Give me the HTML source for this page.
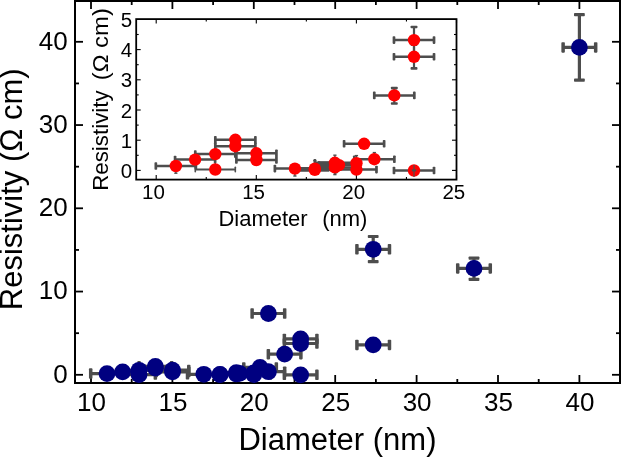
<!DOCTYPE html>
<html><head><meta charset="utf-8"><style>
html,body{margin:0;padding:0;background:#fff;}
svg{display:block;will-change:transform;}
text{font-family:"Liberation Sans",Arial,sans-serif;fill:#000;}
</style></head><body>
<svg width="621" height="457" viewBox="0 0 621 457">
<rect width="621" height="457" fill="#fff"/>
<rect x="75" y="1" width="545" height="382" fill="none" stroke="#000" stroke-width="2"/>
<line x1="91.00" y1="383" x2="91.00" y2="375" stroke="#000" stroke-width="1.8"/>
<line x1="91.00" y1="1" x2="91.00" y2="9" stroke="#000" stroke-width="1.8"/>
<line x1="131.70" y1="383" x2="131.70" y2="379" stroke="#000" stroke-width="1.8"/>
<line x1="131.70" y1="1" x2="131.70" y2="5" stroke="#000" stroke-width="1.8"/>
<line x1="172.40" y1="383" x2="172.40" y2="375" stroke="#000" stroke-width="1.8"/>
<line x1="172.40" y1="1" x2="172.40" y2="9" stroke="#000" stroke-width="1.8"/>
<line x1="213.10" y1="383" x2="213.10" y2="379" stroke="#000" stroke-width="1.8"/>
<line x1="213.10" y1="1" x2="213.10" y2="5" stroke="#000" stroke-width="1.8"/>
<line x1="253.80" y1="383" x2="253.80" y2="375" stroke="#000" stroke-width="1.8"/>
<line x1="253.80" y1="1" x2="253.80" y2="9" stroke="#000" stroke-width="1.8"/>
<line x1="294.50" y1="383" x2="294.50" y2="379" stroke="#000" stroke-width="1.8"/>
<line x1="294.50" y1="1" x2="294.50" y2="5" stroke="#000" stroke-width="1.8"/>
<line x1="335.20" y1="383" x2="335.20" y2="375" stroke="#000" stroke-width="1.8"/>
<line x1="335.20" y1="1" x2="335.20" y2="9" stroke="#000" stroke-width="1.8"/>
<line x1="375.90" y1="383" x2="375.90" y2="379" stroke="#000" stroke-width="1.8"/>
<line x1="375.90" y1="1" x2="375.90" y2="5" stroke="#000" stroke-width="1.8"/>
<line x1="416.60" y1="383" x2="416.60" y2="375" stroke="#000" stroke-width="1.8"/>
<line x1="416.60" y1="1" x2="416.60" y2="9" stroke="#000" stroke-width="1.8"/>
<line x1="457.30" y1="383" x2="457.30" y2="379" stroke="#000" stroke-width="1.8"/>
<line x1="457.30" y1="1" x2="457.30" y2="5" stroke="#000" stroke-width="1.8"/>
<line x1="498.00" y1="383" x2="498.00" y2="375" stroke="#000" stroke-width="1.8"/>
<line x1="498.00" y1="1" x2="498.00" y2="9" stroke="#000" stroke-width="1.8"/>
<line x1="538.70" y1="383" x2="538.70" y2="379" stroke="#000" stroke-width="1.8"/>
<line x1="538.70" y1="1" x2="538.70" y2="5" stroke="#000" stroke-width="1.8"/>
<line x1="579.40" y1="383" x2="579.40" y2="375" stroke="#000" stroke-width="1.8"/>
<line x1="579.40" y1="1" x2="579.40" y2="9" stroke="#000" stroke-width="1.8"/>
<line x1="75" y1="374.80" x2="83" y2="374.80" stroke="#000" stroke-width="1.8"/>
<line x1="620" y1="374.80" x2="612" y2="374.80" stroke="#000" stroke-width="1.8"/>
<line x1="75" y1="333.18" x2="79" y2="333.18" stroke="#000" stroke-width="1.8"/>
<line x1="620" y1="333.18" x2="616" y2="333.18" stroke="#000" stroke-width="1.8"/>
<line x1="75" y1="291.55" x2="83" y2="291.55" stroke="#000" stroke-width="1.8"/>
<line x1="620" y1="291.55" x2="612" y2="291.55" stroke="#000" stroke-width="1.8"/>
<line x1="75" y1="249.93" x2="79" y2="249.93" stroke="#000" stroke-width="1.8"/>
<line x1="620" y1="249.93" x2="616" y2="249.93" stroke="#000" stroke-width="1.8"/>
<line x1="75" y1="208.30" x2="83" y2="208.30" stroke="#000" stroke-width="1.8"/>
<line x1="620" y1="208.30" x2="612" y2="208.30" stroke="#000" stroke-width="1.8"/>
<line x1="75" y1="166.68" x2="79" y2="166.68" stroke="#000" stroke-width="1.8"/>
<line x1="620" y1="166.68" x2="616" y2="166.68" stroke="#000" stroke-width="1.8"/>
<line x1="75" y1="125.05" x2="83" y2="125.05" stroke="#000" stroke-width="1.8"/>
<line x1="620" y1="125.05" x2="612" y2="125.05" stroke="#000" stroke-width="1.8"/>
<line x1="75" y1="83.43" x2="79" y2="83.43" stroke="#000" stroke-width="1.8"/>
<line x1="620" y1="83.43" x2="616" y2="83.43" stroke="#000" stroke-width="1.8"/>
<line x1="75" y1="41.80" x2="83" y2="41.80" stroke="#000" stroke-width="1.8"/>
<line x1="620" y1="41.80" x2="612" y2="41.80" stroke="#000" stroke-width="1.8"/>
<line x1="75" y1="0.18" x2="79" y2="0.18" stroke="#000" stroke-width="1.8"/>
<line x1="620" y1="0.18" x2="616" y2="0.18" stroke="#000" stroke-width="1.8"/>
<text x="91.50" y="411" font-size="26" text-anchor="middle">10</text>
<text x="172.90" y="411" font-size="26" text-anchor="middle">15</text>
<text x="254.30" y="411" font-size="26" text-anchor="middle">20</text>
<text x="335.70" y="411" font-size="26" text-anchor="middle">25</text>
<text x="417.10" y="411" font-size="26" text-anchor="middle">30</text>
<text x="498.50" y="411" font-size="26" text-anchor="middle">35</text>
<text x="579.90" y="411" font-size="26" text-anchor="middle">40</text>
<text x="67.6" y="382.60" font-size="26" text-anchor="end">0</text>
<text x="67.6" y="299.35" font-size="26" text-anchor="end">10</text>
<text x="67.6" y="216.10" font-size="26" text-anchor="end">20</text>
<text x="67.6" y="132.85" font-size="26" text-anchor="end">30</text>
<text x="67.6" y="49.60" font-size="26" text-anchor="end">40</text>
<text x="238.4" y="450.3" font-size="31">Diameter (nm)</text>
<text transform="translate(21.9,310.2) rotate(-90)" font-size="31">Resistivity (&#937; cm)</text>
<line x1="90.70" y1="373.59" x2="123.26" y2="373.59" stroke="#4d4d4d" stroke-width="3.2"/><rect x="88.95" y="368.34" width="3.5" height="10.5" rx="0.8" fill="#4d4d4d"/><rect x="121.51" y="368.34" width="3.5" height="10.5" rx="0.8" fill="#4d4d4d"/>
<line x1="106.35" y1="371.82" x2="138.91" y2="371.82" stroke="#4d4d4d" stroke-width="3.2"/><rect x="104.60" y="366.57" width="3.5" height="10.5" rx="0.8" fill="#4d4d4d"/><rect x="137.16" y="366.57" width="3.5" height="10.5" rx="0.8" fill="#4d4d4d"/>
<line x1="122.78" y1="370.31" x2="155.34" y2="370.31" stroke="#4d4d4d" stroke-width="3.2"/><rect x="121.03" y="365.06" width="3.5" height="10.5" rx="0.8" fill="#4d4d4d"/><rect x="153.59" y="365.06" width="3.5" height="10.5" rx="0.8" fill="#4d4d4d"/>
<line x1="122.78" y1="374.55" x2="155.34" y2="374.55" stroke="#4d4d4d" stroke-width="3.2"/><rect x="121.03" y="369.30" width="3.5" height="10.5" rx="0.8" fill="#4d4d4d"/><rect x="153.59" y="369.30" width="3.5" height="10.5" rx="0.8" fill="#4d4d4d"/>
<line x1="139.08" y1="366.36" x2="171.64" y2="366.36" stroke="#4d4d4d" stroke-width="3.2"/><rect x="137.33" y="361.11" width="3.5" height="10.5" rx="0.8" fill="#4d4d4d"/><rect x="169.89" y="361.11" width="3.5" height="10.5" rx="0.8" fill="#4d4d4d"/>
<line x1="139.08" y1="368.13" x2="171.64" y2="368.13" stroke="#4d4d4d" stroke-width="3.2"/><rect x="137.33" y="362.88" width="3.5" height="10.5" rx="0.8" fill="#4d4d4d"/><rect x="169.89" y="362.88" width="3.5" height="10.5" rx="0.8" fill="#4d4d4d"/>
<line x1="156.20" y1="370.09" x2="188.76" y2="370.09" stroke="#4d4d4d" stroke-width="3.2"/><rect x="154.45" y="364.84" width="3.5" height="10.5" rx="0.8" fill="#4d4d4d"/><rect x="187.01" y="364.84" width="3.5" height="10.5" rx="0.8" fill="#4d4d4d"/>
<line x1="156.20" y1="371.93" x2="188.76" y2="371.93" stroke="#4d4d4d" stroke-width="3.2"/><rect x="154.45" y="366.68" width="3.5" height="10.5" rx="0.8" fill="#4d4d4d"/><rect x="187.01" y="366.68" width="3.5" height="10.5" rx="0.8" fill="#4d4d4d"/>
<line x1="187.51" y1="374.30" x2="220.07" y2="374.30" stroke="#4d4d4d" stroke-width="3.2"/><rect x="185.76" y="369.05" width="3.5" height="10.5" rx="0.8" fill="#4d4d4d"/><rect x="218.32" y="369.05" width="3.5" height="10.5" rx="0.8" fill="#4d4d4d"/>
<line x1="203.73" y1="374.33" x2="236.29" y2="374.33" stroke="#4d4d4d" stroke-width="3.2"/><rect x="201.98" y="369.08" width="3.5" height="10.5" rx="0.8" fill="#4d4d4d"/><rect x="234.54" y="369.08" width="3.5" height="10.5" rx="0.8" fill="#4d4d4d"/>
<line x1="203.73" y1="374.66" x2="236.29" y2="374.66" stroke="#4d4d4d" stroke-width="3.2"/><rect x="201.98" y="369.41" width="3.5" height="10.5" rx="0.8" fill="#4d4d4d"/><rect x="234.54" y="369.41" width="3.5" height="10.5" rx="0.8" fill="#4d4d4d"/>
<line x1="220.04" y1="372.70" x2="252.60" y2="372.70" stroke="#4d4d4d" stroke-width="3.2"/><rect x="218.29" y="367.45" width="3.5" height="10.5" rx="0.8" fill="#4d4d4d"/><rect x="250.85" y="367.45" width="3.5" height="10.5" rx="0.8" fill="#4d4d4d"/>
<line x1="220.04" y1="373.97" x2="252.60" y2="373.97" stroke="#4d4d4d" stroke-width="3.2"/><rect x="218.29" y="368.72" width="3.5" height="10.5" rx="0.8" fill="#4d4d4d"/><rect x="250.85" y="368.72" width="3.5" height="10.5" rx="0.8" fill="#4d4d4d"/>
<line x1="223.37" y1="373.34" x2="255.93" y2="373.34" stroke="#4d4d4d" stroke-width="3.2"/><rect x="221.62" y="368.09" width="3.5" height="10.5" rx="0.8" fill="#4d4d4d"/><rect x="254.18" y="368.09" width="3.5" height="10.5" rx="0.8" fill="#4d4d4d"/>
<line x1="237.56" y1="374.58" x2="270.12" y2="374.58" stroke="#4d4d4d" stroke-width="3.2"/><rect x="235.81" y="369.33" width="3.5" height="10.5" rx="0.8" fill="#4d4d4d"/><rect x="268.37" y="369.33" width="3.5" height="10.5" rx="0.8" fill="#4d4d4d"/>
<line x1="243.78" y1="367.47" x2="276.34" y2="367.47" stroke="#4d4d4d" stroke-width="3.2"/><rect x="242.03" y="362.22" width="3.5" height="10.5" rx="0.8" fill="#4d4d4d"/><rect x="274.59" y="362.22" width="3.5" height="10.5" rx="0.8" fill="#4d4d4d"/>
<line x1="252.12" y1="371.71" x2="284.68" y2="371.71" stroke="#4d4d4d" stroke-width="3.2"/><rect x="250.37" y="366.46" width="3.5" height="10.5" rx="0.8" fill="#4d4d4d"/><rect x="282.93" y="366.46" width="3.5" height="10.5" rx="0.8" fill="#4d4d4d"/>
<line x1="268.34" y1="354.13" x2="300.90" y2="354.13" stroke="#4d4d4d" stroke-width="3.2"/><rect x="266.59" y="348.88" width="3.5" height="10.5" rx="0.8" fill="#4d4d4d"/><rect x="299.15" y="348.88" width="3.5" height="10.5" rx="0.8" fill="#4d4d4d"/>
<line x1="284.36" y1="338.88" x2="316.92" y2="338.88" stroke="#4d4d4d" stroke-width="3.2"/><rect x="282.61" y="333.63" width="3.5" height="10.5" rx="0.8" fill="#4d4d4d"/><rect x="315.17" y="333.63" width="3.5" height="10.5" rx="0.8" fill="#4d4d4d"/>
<line x1="284.36" y1="343.48" x2="316.92" y2="343.48" stroke="#4d4d4d" stroke-width="3.2"/><rect x="282.61" y="338.23" width="3.5" height="10.5" rx="0.8" fill="#4d4d4d"/><rect x="315.17" y="338.23" width="3.5" height="10.5" rx="0.8" fill="#4d4d4d"/>
<line x1="284.36" y1="374.83" x2="316.92" y2="374.83" stroke="#4d4d4d" stroke-width="3.2"/><rect x="282.61" y="369.58" width="3.5" height="10.5" rx="0.8" fill="#4d4d4d"/><rect x="315.17" y="369.58" width="3.5" height="10.5" rx="0.8" fill="#4d4d4d"/>
<line x1="252.12" y1="313.50" x2="284.68" y2="313.50" stroke="#4d4d4d" stroke-width="3.2"/><rect x="250.37" y="308.25" width="3.5" height="10.5" rx="0.8" fill="#4d4d4d"/><rect x="282.93" y="308.25" width="3.5" height="10.5" rx="0.8" fill="#4d4d4d"/>
<line x1="356.92" y1="249.30" x2="389.48" y2="249.30" stroke="#4d4d4d" stroke-width="3.2"/><rect x="355.17" y="244.05" width="3.5" height="10.5" rx="0.8" fill="#4d4d4d"/><rect x="387.73" y="244.05" width="3.5" height="10.5" rx="0.8" fill="#4d4d4d"/>
<line x1="356.92" y1="344.90" x2="389.48" y2="344.90" stroke="#4d4d4d" stroke-width="3.2"/><rect x="355.17" y="339.65" width="3.5" height="10.5" rx="0.8" fill="#4d4d4d"/><rect x="387.73" y="339.65" width="3.5" height="10.5" rx="0.8" fill="#4d4d4d"/>
<line x1="457.72" y1="268.40" x2="490.28" y2="268.40" stroke="#4d4d4d" stroke-width="3.2"/><rect x="455.97" y="263.15" width="3.5" height="10.5" rx="0.8" fill="#4d4d4d"/><rect x="488.53" y="263.15" width="3.5" height="10.5" rx="0.8" fill="#4d4d4d"/>
<line x1="563.12" y1="47.40" x2="595.68" y2="47.40" stroke="#4d4d4d" stroke-width="3.2"/><rect x="561.37" y="42.15" width="3.5" height="10.5" rx="0.8" fill="#4d4d4d"/><rect x="593.93" y="42.15" width="3.5" height="10.5" rx="0.8" fill="#4d4d4d"/>
<line x1="373.20" y1="236.50" x2="373.20" y2="261.60" stroke="#4d4d4d" stroke-width="3.2"/><rect x="367.80" y="234.90" width="10.8" height="3.2" rx="0.8" fill="#4d4d4d"/><rect x="367.80" y="260.00" width="10.8" height="3.2" rx="0.8" fill="#4d4d4d"/>
<line x1="474.00" y1="258.10" x2="474.00" y2="279.40" stroke="#4d4d4d" stroke-width="3.2"/><rect x="468.60" y="256.50" width="10.8" height="3.2" rx="0.8" fill="#4d4d4d"/><rect x="468.60" y="277.80" width="10.8" height="3.2" rx="0.8" fill="#4d4d4d"/>
<line x1="579.40" y1="14.70" x2="579.40" y2="80.20" stroke="#4d4d4d" stroke-width="3.2"/><rect x="574.00" y="13.10" width="10.8" height="3.2" rx="0.8" fill="#4d4d4d"/><rect x="574.00" y="78.60" width="10.8" height="3.2" rx="0.8" fill="#4d4d4d"/>
<circle cx="106.98" cy="373.59" r="8.4" fill="#000080"/>
<circle cx="122.63" cy="371.82" r="8.4" fill="#000080"/>
<circle cx="139.06" cy="370.31" r="8.4" fill="#000080"/>
<circle cx="139.06" cy="374.55" r="8.4" fill="#000080"/>
<circle cx="155.36" cy="366.36" r="8.4" fill="#000080"/>
<circle cx="155.36" cy="368.13" r="8.4" fill="#000080"/>
<circle cx="172.48" cy="370.09" r="8.4" fill="#000080"/>
<circle cx="172.48" cy="371.93" r="8.4" fill="#000080"/>
<circle cx="203.79" cy="374.3" r="8.4" fill="#000080"/>
<circle cx="220.01" cy="374.33" r="8.4" fill="#000080"/>
<circle cx="220.01" cy="374.66" r="8.4" fill="#000080"/>
<circle cx="236.32" cy="372.7" r="8.4" fill="#000080"/>
<circle cx="236.32" cy="373.97" r="8.4" fill="#000080"/>
<circle cx="239.65" cy="373.34" r="8.4" fill="#000080"/>
<circle cx="253.84" cy="372.82" r="8.4" fill="#000080"/>
<circle cx="253.84" cy="374.58" r="8.4" fill="#000080"/>
<circle cx="260.06" cy="367.47" r="8.4" fill="#000080"/>
<circle cx="268.4" cy="371.71" r="8.4" fill="#000080"/>
<circle cx="284.62" cy="354.13" r="8.4" fill="#000080"/>
<circle cx="300.64" cy="338.88" r="8.4" fill="#000080"/>
<circle cx="300.64" cy="343.48" r="8.4" fill="#000080"/>
<circle cx="300.64" cy="374.83" r="8.4" fill="#000080"/>
<circle cx="268.4" cy="313.5" r="8.4" fill="#000080"/>
<circle cx="373.2" cy="249.3" r="8.4" fill="#000080"/>
<circle cx="373.2" cy="344.9" r="8.4" fill="#000080"/>
<circle cx="474.0" cy="268.4" r="8.4" fill="#000080"/>
<circle cx="579.4" cy="47.4" r="8.4" fill="#000080"/>
<rect x="136.2" y="19.1" width="320.3" height="160.5" fill="#fff" stroke="#000" stroke-width="1.8"/>
<line x1="156.20" y1="179.6" x2="156.20" y2="175.1" stroke="#000" stroke-width="1.1"/>
<line x1="156.20" y1="19.1" x2="156.20" y2="23.6" stroke="#000" stroke-width="1.1"/>
<line x1="206.25" y1="179.6" x2="206.25" y2="177.1" stroke="#000" stroke-width="1.1"/>
<line x1="206.25" y1="19.1" x2="206.25" y2="21.6" stroke="#000" stroke-width="1.1"/>
<line x1="256.30" y1="179.6" x2="256.30" y2="175.1" stroke="#000" stroke-width="1.1"/>
<line x1="256.30" y1="19.1" x2="256.30" y2="23.6" stroke="#000" stroke-width="1.1"/>
<line x1="306.35" y1="179.6" x2="306.35" y2="177.1" stroke="#000" stroke-width="1.1"/>
<line x1="306.35" y1="19.1" x2="306.35" y2="21.6" stroke="#000" stroke-width="1.1"/>
<line x1="356.40" y1="179.6" x2="356.40" y2="175.1" stroke="#000" stroke-width="1.1"/>
<line x1="356.40" y1="19.1" x2="356.40" y2="23.6" stroke="#000" stroke-width="1.1"/>
<line x1="406.45" y1="179.6" x2="406.45" y2="177.1" stroke="#000" stroke-width="1.1"/>
<line x1="406.45" y1="19.1" x2="406.45" y2="21.6" stroke="#000" stroke-width="1.1"/>
<line x1="456.50" y1="179.6" x2="456.50" y2="175.1" stroke="#000" stroke-width="1.1"/>
<line x1="456.50" y1="19.1" x2="456.50" y2="23.6" stroke="#000" stroke-width="1.1"/>
<line x1="136.2" y1="170.40" x2="140.7" y2="170.40" stroke="#000" stroke-width="1.1"/>
<line x1="456.5" y1="170.40" x2="452.0" y2="170.40" stroke="#000" stroke-width="1.1"/>
<line x1="136.2" y1="155.30" x2="138.7" y2="155.30" stroke="#000" stroke-width="1.1"/>
<line x1="456.5" y1="155.30" x2="454.0" y2="155.30" stroke="#000" stroke-width="1.1"/>
<line x1="136.2" y1="140.20" x2="140.7" y2="140.20" stroke="#000" stroke-width="1.1"/>
<line x1="456.5" y1="140.20" x2="452.0" y2="140.20" stroke="#000" stroke-width="1.1"/>
<line x1="136.2" y1="125.10" x2="138.7" y2="125.10" stroke="#000" stroke-width="1.1"/>
<line x1="456.5" y1="125.10" x2="454.0" y2="125.10" stroke="#000" stroke-width="1.1"/>
<line x1="136.2" y1="110.00" x2="140.7" y2="110.00" stroke="#000" stroke-width="1.1"/>
<line x1="456.5" y1="110.00" x2="452.0" y2="110.00" stroke="#000" stroke-width="1.1"/>
<line x1="136.2" y1="94.90" x2="138.7" y2="94.90" stroke="#000" stroke-width="1.1"/>
<line x1="456.5" y1="94.90" x2="454.0" y2="94.90" stroke="#000" stroke-width="1.1"/>
<line x1="136.2" y1="79.80" x2="140.7" y2="79.80" stroke="#000" stroke-width="1.1"/>
<line x1="456.5" y1="79.80" x2="452.0" y2="79.80" stroke="#000" stroke-width="1.1"/>
<line x1="136.2" y1="64.70" x2="138.7" y2="64.70" stroke="#000" stroke-width="1.1"/>
<line x1="456.5" y1="64.70" x2="454.0" y2="64.70" stroke="#000" stroke-width="1.1"/>
<line x1="136.2" y1="49.60" x2="140.7" y2="49.60" stroke="#000" stroke-width="1.1"/>
<line x1="456.5" y1="49.60" x2="452.0" y2="49.60" stroke="#000" stroke-width="1.1"/>
<line x1="136.2" y1="34.50" x2="138.7" y2="34.50" stroke="#000" stroke-width="1.1"/>
<line x1="456.5" y1="34.50" x2="454.0" y2="34.50" stroke="#000" stroke-width="1.1"/>
<text x="153.50" y="199.3" font-size="20.5" text-anchor="middle">10</text>
<text x="253.60" y="199.3" font-size="20.5" text-anchor="middle">15</text>
<text x="353.70" y="199.3" font-size="20.5" text-anchor="middle">20</text>
<text x="453.80" y="199.3" font-size="20.5" text-anchor="middle">25</text>
<text x="132.2" y="178.00" font-size="20.5" text-anchor="end">0</text>
<text x="132.2" y="147.80" font-size="20.5" text-anchor="end">1</text>
<text x="132.2" y="117.60" font-size="20.5" text-anchor="end">2</text>
<text x="132.2" y="87.40" font-size="20.5" text-anchor="end">3</text>
<text x="132.2" y="57.20" font-size="20.5" text-anchor="end">4</text>
<text x="132.2" y="27.00" font-size="20.5" text-anchor="end">5</text>
<text x="218.4" y="226.4" font-size="22">Diameter</text><text x="322.2" y="226.4" font-size="22">(nm)</text>
<text transform="translate(108.2,190.8) rotate(-90)" font-size="22" textLength="100.4" lengthAdjust="spacingAndGlyphs">Resistivity</text>
<text transform="translate(108.2,80.3) rotate(-90)" font-size="22" textLength="72.2" lengthAdjust="spacingAndGlyphs">(&#937; cm)</text>
<line x1="155.83" y1="166.00" x2="195.87" y2="166.00" stroke="#4d4d4d" stroke-width="2.5"/><rect x="154.48" y="162.20" width="2.7" height="7.6" rx="0.8" fill="#4d4d4d"/><rect x="194.52" y="162.20" width="2.7" height="7.6" rx="0.8" fill="#4d4d4d"/>
<line x1="175.08" y1="159.60" x2="215.12" y2="159.60" stroke="#4d4d4d" stroke-width="2.5"/><rect x="173.73" y="155.80" width="2.7" height="7.6" rx="0.8" fill="#4d4d4d"/><rect x="213.77" y="155.80" width="2.7" height="7.6" rx="0.8" fill="#4d4d4d"/>
<line x1="195.28" y1="154.10" x2="235.32" y2="154.10" stroke="#4d4d4d" stroke-width="2.5"/><rect x="193.93" y="150.30" width="2.7" height="7.6" rx="0.8" fill="#4d4d4d"/><rect x="233.97" y="150.30" width="2.7" height="7.6" rx="0.8" fill="#4d4d4d"/>
<line x1="195.28" y1="169.50" x2="235.32" y2="169.50" stroke="#4d4d4d" stroke-width="2.0"/><rect x="194.48" y="166.50" width="1.6" height="6.0" rx="0.8" fill="#4d4d4d"/><rect x="234.52" y="166.50" width="1.6" height="6.0" rx="0.8" fill="#4d4d4d"/>
<line x1="215.33" y1="139.80" x2="255.37" y2="139.80" stroke="#4d4d4d" stroke-width="2.5"/><rect x="213.98" y="136.00" width="2.7" height="7.6" rx="0.8" fill="#4d4d4d"/><rect x="254.02" y="136.00" width="2.7" height="7.6" rx="0.8" fill="#4d4d4d"/>
<line x1="215.33" y1="146.20" x2="255.37" y2="146.20" stroke="#4d4d4d" stroke-width="2.5"/><rect x="213.98" y="142.40" width="2.7" height="7.6" rx="0.8" fill="#4d4d4d"/><rect x="254.02" y="142.40" width="2.7" height="7.6" rx="0.8" fill="#4d4d4d"/>
<line x1="236.38" y1="153.30" x2="276.42" y2="153.30" stroke="#4d4d4d" stroke-width="2.5"/><rect x="235.03" y="149.50" width="2.7" height="7.6" rx="0.8" fill="#4d4d4d"/><rect x="275.07" y="149.50" width="2.7" height="7.6" rx="0.8" fill="#4d4d4d"/>
<line x1="236.38" y1="160.00" x2="276.42" y2="160.00" stroke="#4d4d4d" stroke-width="2.5"/><rect x="235.03" y="156.20" width="2.7" height="7.6" rx="0.8" fill="#4d4d4d"/><rect x="275.07" y="156.20" width="2.7" height="7.6" rx="0.8" fill="#4d4d4d"/>
<line x1="274.88" y1="168.60" x2="314.92" y2="168.60" stroke="#4d4d4d" stroke-width="2.5"/><rect x="273.53" y="164.80" width="2.7" height="7.6" rx="0.8" fill="#4d4d4d"/><rect x="313.57" y="164.80" width="2.7" height="7.6" rx="0.8" fill="#4d4d4d"/>
<line x1="294.83" y1="168.70" x2="334.87" y2="168.70" stroke="#4d4d4d" stroke-width="2.5"/><rect x="293.48" y="164.90" width="2.7" height="7.6" rx="0.8" fill="#4d4d4d"/><rect x="333.52" y="164.90" width="2.7" height="7.6" rx="0.8" fill="#4d4d4d"/>
<line x1="294.83" y1="169.90" x2="334.87" y2="169.90" stroke="#4d4d4d" stroke-width="2.5"/><rect x="293.48" y="166.10" width="2.7" height="7.6" rx="0.8" fill="#4d4d4d"/><rect x="333.52" y="166.10" width="2.7" height="7.6" rx="0.8" fill="#4d4d4d"/>
<line x1="314.88" y1="162.80" x2="354.92" y2="162.80" stroke="#4d4d4d" stroke-width="2.5"/><rect x="313.53" y="159.00" width="2.7" height="7.6" rx="0.8" fill="#4d4d4d"/><rect x="353.57" y="159.00" width="2.7" height="7.6" rx="0.8" fill="#4d4d4d"/>
<line x1="314.88" y1="167.40" x2="354.92" y2="167.40" stroke="#4d4d4d" stroke-width="2.5"/><rect x="313.53" y="163.60" width="2.7" height="7.6" rx="0.8" fill="#4d4d4d"/><rect x="353.57" y="163.60" width="2.7" height="7.6" rx="0.8" fill="#4d4d4d"/>
<line x1="318.98" y1="165.10" x2="359.02" y2="165.10" stroke="#4d4d4d" stroke-width="2.5"/><rect x="317.63" y="161.30" width="2.7" height="7.6" rx="0.8" fill="#4d4d4d"/><rect x="357.67" y="161.30" width="2.7" height="7.6" rx="0.8" fill="#4d4d4d"/>
<line x1="336.43" y1="169.60" x2="376.47" y2="169.60" stroke="#4d4d4d" stroke-width="2.5"/><rect x="335.08" y="165.80" width="2.7" height="7.6" rx="0.8" fill="#4d4d4d"/><rect x="375.12" y="165.80" width="2.7" height="7.6" rx="0.8" fill="#4d4d4d"/>
<line x1="344.08" y1="143.80" x2="384.12" y2="143.80" stroke="#4d4d4d" stroke-width="2.5"/><rect x="342.73" y="140.00" width="2.7" height="7.6" rx="0.8" fill="#4d4d4d"/><rect x="382.77" y="140.00" width="2.7" height="7.6" rx="0.8" fill="#4d4d4d"/>
<line x1="354.33" y1="159.20" x2="394.37" y2="159.20" stroke="#4d4d4d" stroke-width="2.5"/><rect x="352.98" y="155.40" width="2.7" height="7.6" rx="0.8" fill="#4d4d4d"/><rect x="393.02" y="155.40" width="2.7" height="7.6" rx="0.8" fill="#4d4d4d"/>
<line x1="374.28" y1="95.40" x2="414.32" y2="95.40" stroke="#4d4d4d" stroke-width="2.5"/><rect x="372.93" y="91.60" width="2.7" height="7.6" rx="0.8" fill="#4d4d4d"/><rect x="412.97" y="91.60" width="2.7" height="7.6" rx="0.8" fill="#4d4d4d"/>
<line x1="393.98" y1="40.10" x2="434.02" y2="40.10" stroke="#4d4d4d" stroke-width="2.5"/><rect x="392.63" y="36.30" width="2.7" height="7.6" rx="0.8" fill="#4d4d4d"/><rect x="432.67" y="36.30" width="2.7" height="7.6" rx="0.8" fill="#4d4d4d"/>
<line x1="393.98" y1="56.80" x2="434.02" y2="56.80" stroke="#4d4d4d" stroke-width="2.5"/><rect x="392.63" y="53.00" width="2.7" height="7.6" rx="0.8" fill="#4d4d4d"/><rect x="432.67" y="53.00" width="2.7" height="7.6" rx="0.8" fill="#4d4d4d"/>
<line x1="393.98" y1="170.50" x2="434.02" y2="170.50" stroke="#4d4d4d" stroke-width="2.5"/><rect x="392.63" y="166.70" width="2.7" height="7.6" rx="0.8" fill="#4d4d4d"/><rect x="432.67" y="166.70" width="2.7" height="7.6" rx="0.8" fill="#4d4d4d"/>
<rect x="300" y="167.1" width="9" height="4.6" fill="#4d4d4d"/>
<rect x="318" y="161.3" width="11" height="10.3" fill="#4d4d4d"/>
<line x1="414.00" y1="27.00" x2="414.00" y2="53.80" stroke="#4d4d4d" stroke-width="2.2"/><rect x="410.55" y="25.70" width="6.9" height="2.6" rx="0.8" fill="#4d4d4d"/><rect x="410.55" y="52.50" width="6.9" height="2.6" rx="0.8" fill="#4d4d4d"/>
<line x1="414.00" y1="44.60" x2="414.00" y2="68.40" stroke="#4d4d4d" stroke-width="2.2"/><rect x="410.55" y="43.30" width="6.9" height="2.6" rx="0.8" fill="#4d4d4d"/><rect x="410.55" y="67.10" width="6.9" height="2.6" rx="0.8" fill="#4d4d4d"/>
<line x1="394.30" y1="88.10" x2="394.30" y2="103.50" stroke="#4d4d4d" stroke-width="2.2"/><rect x="390.85" y="86.80" width="6.9" height="2.6" rx="0.8" fill="#4d4d4d"/><rect x="390.85" y="102.20" width="6.9" height="2.6" rx="0.8" fill="#4d4d4d"/>
<line x1="175.85" y1="166.0" x2="175.85" y2="173.2" stroke="#4d4d4d" stroke-width="1.4"/>
<rect x="174.25" y="172.50" width="3.2" height="1.4" fill="#4d4d4d"/>
<line x1="294.9" y1="168.6" x2="294.9" y2="176.0" stroke="#4d4d4d" stroke-width="1.4"/>
<rect x="293.30" y="175.30" width="3.2" height="1.4" fill="#4d4d4d"/>
<line x1="314.85" y1="160.6" x2="314.85" y2="169.3" stroke="#4d4d4d" stroke-width="1.4"/>
<rect x="313.25" y="159.90" width="3.2" height="1.4" fill="#4d4d4d"/>
<line x1="334.9" y1="155.2" x2="334.9" y2="162.8" stroke="#4d4d4d" stroke-width="1.4"/>
<rect x="333.30" y="154.50" width="3.2" height="1.4" fill="#4d4d4d"/>
<line x1="334.9" y1="167.4" x2="334.9" y2="174.6" stroke="#4d4d4d" stroke-width="1.4"/>
<rect x="333.30" y="173.90" width="3.2" height="1.4" fill="#4d4d4d"/>
<line x1="356.45" y1="155.6" x2="356.45" y2="163.2" stroke="#4d4d4d" stroke-width="1.4"/>
<rect x="354.85" y="154.90" width="3.2" height="1.4" fill="#4d4d4d"/>
<line x1="374.35" y1="152.6" x2="374.35" y2="159.2" stroke="#4d4d4d" stroke-width="1.4"/>
<rect x="372.75" y="151.90" width="3.2" height="1.4" fill="#4d4d4d"/>
<line x1="215.3" y1="154.1" x2="215.3" y2="169.5" stroke="#4d4d4d" stroke-width="1.4"/>
<circle cx="175.85" cy="166.0" r="6.2" fill="#ff0000"/>
<circle cx="195.1" cy="159.6" r="6.2" fill="#ff0000"/>
<circle cx="215.3" cy="154.1" r="6.2" fill="#ff0000"/>
<circle cx="215.3" cy="169.5" r="6.2" fill="#ff0000"/>
<circle cx="235.35" cy="139.8" r="6.2" fill="#ff0000"/>
<circle cx="235.35" cy="146.2" r="6.2" fill="#ff0000"/>
<circle cx="256.4" cy="153.3" r="6.2" fill="#ff0000"/>
<circle cx="256.4" cy="160.0" r="6.2" fill="#ff0000"/>
<circle cx="294.9" cy="168.6" r="6.2" fill="#ff0000"/>
<circle cx="314.85" cy="168.7" r="6.2" fill="#ff0000"/>
<circle cx="314.85" cy="169.9" r="6.2" fill="#ff0000"/>
<circle cx="334.9" cy="162.8" r="6.2" fill="#ff0000"/>
<circle cx="334.9" cy="167.4" r="6.2" fill="#ff0000"/>
<circle cx="339.0" cy="165.1" r="6.2" fill="#ff0000"/>
<circle cx="356.45" cy="163.2" r="6.2" fill="#ff0000"/>
<circle cx="356.45" cy="169.6" r="6.2" fill="#ff0000"/>
<circle cx="364.1" cy="143.8" r="6.2" fill="#ff0000"/>
<circle cx="374.35" cy="159.2" r="6.2" fill="#ff0000"/>
<circle cx="394.3" cy="95.4" r="6.2" fill="#ff0000"/>
<circle cx="414.0" cy="40.1" r="6.2" fill="#ff0000"/>
<circle cx="414.0" cy="56.8" r="6.2" fill="#ff0000"/>
<circle cx="414.0" cy="170.5" r="6.2" fill="#ff0000"/>
<line x1="414" y1="165" x2="414" y2="177" stroke="#4d4d4d" stroke-width="1.2"/><rect x="411.8" y="169.4" width="4.4" height="2" fill="#4d4d4d"/>
</svg>
</body></html>
